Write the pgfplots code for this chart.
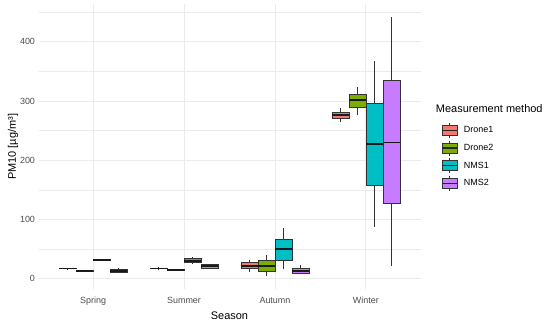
\documentclass[border=0pt]{standalone}
\usepackage{pgfplots}
\pgfplotsset{compat=1.18}
\usepackage{fontspec}
\setmainfont{Liberation Sans}
\definecolor{cD1}{HTML}{F8766D}
\definecolor{cD2}{HTML}{7CAE00}
\definecolor{cN1}{HTML}{00BFC4}
\definecolor{cN2}{HTML}{C77CFF}
\definecolor{g20}{HTML}{333333}
\definecolor{g30}{HTML}{4D4D4D}
\definecolor{g92}{HTML}{EBEBEB}
\pgfplotsset{
  keyimg/.style={legend image code/.code={
      \draw[g20, line width=0.6bp] (7.5bp,-7.5bp) -- (7.5bp,7.5bp);
      \draw[g20, line width=0.6bp, fill=#1] (0bp,-5bp) rectangle (15bp,5bp);
      \draw[black!85, line width=1.2bp] (0bp,0bp) -- (15bp,0bp);}}
}
% box: colour, position, lower whisker, Q1, median, Q3, upper whisker
\newcommand{\bx}[7]{%
  \pgfmathsetmacro\bxL{#2-0.093}\pgfmathsetmacro\bxR{#2+0.093}%
  \addplot[g20, line width=0.6bp, forget plot] coordinates {(#2,#3) (#2,#4)};
  \addplot[g20, line width=0.6bp, forget plot] coordinates {(#2,#6) (#2,#7)};
  \addplot[g20, line width=0.6bp, fill=#1, forget plot] coordinates {(\bxL,#4) (\bxR,#4) (\bxR,#6) (\bxL,#6)} -- cycle;
  \addplot[black!90, line width=1.7bp, forget plot] coordinates {(\bxL,#5) (\bxR,#5)};
}
\begin{document}
\begin{tikzpicture}
\useasboundingbox (0,0) rectangle (550bp,322bp);
\begin{axis}[
  at={(38.5bp,32.6bp)}, anchor=south west,
  scale only axis, width=382bp, height=285bp,
  xmin=0.4, xmax=4.6, ymin=-18, ymax=463,
  xtick={1,2,3,4}, xticklabels={Spring,Summer,Autumn,Winter},
  ytick={0,100,200,300,400}, minor ytick={50,150,250,350,450},
  grid=both,
  major grid style={draw=g92, line width=0.9bp},
  minor grid style={draw=g92, line width=0.45bp},
  axis line style={draw=none},
  tick style={draw=none},
  /pgf/number format/assume math mode=true,
  ticklabel style={font=\fontsize{9}{10}\selectfont, text=g30},
  xticklabel style={yshift=-4bp},
  yticklabel style={xshift=0bp},
  xlabel={Season}, ylabel={PM10 [µg/m³]},
  label style={font=\fontsize{11}{12}\selectfont},
  xlabel style={yshift=0bp},
  ylabel style={yshift=-5bp},
  legend style={at={(1.047,0.593)}, anchor=north west, draw=none, fill=none,
    font=\fontsize{9}{10}\selectfont, row sep=2.1bp,
    nodes={inner sep=1.5bp},
    /tikz/every odd column/.append style={column sep=4.5bp}},
  legend cell align=left,
  clip=false,
]
% Spring
\bx{cD1}{0.71875}{16.5}{17}{17.5}{18}{18.5}
\bx{cD2}{0.90625}{12.5}{13}{13.5}{14}{14.5}
\bx{cN1}{1.09375}{30.5}{31}{31.5}{32}{32.5}
\bx{cN2}{1.28125}{10}{11.3}{13.5}{16.4}{17.5}
% Summer
\bx{cD1}{1.71875}{16}{16.8}{17.5}{18.2}{19}
\bx{cD2}{1.90625}{14}{14.3}{14.7}{15.1}{15.5}
\bx{cN1}{2.09375}{25.5}{27.7}{30.5}{35}{37}
\bx{cN2}{2.28125}{16.5}{18}{21}{23.6}{25}
% Autumn
\bx{cD1}{2.71875}{12}{17}{22}{27}{31.5}
\bx{cD2}{2.90625}{4.5}{13}{22}{30.4}{40}
\bx{cN1}{3.09375}{16}{31.5}{50}{67}{86}
\bx{cN2}{3.28125}{7.4}{9.6}{13}{17}{22.6}
% Winter
\bx{cD1}{3.71875}{264}{270}{275.8}{281}{287.6}
\bx{cD2}{3.90625}{277}{288.6}{301.6}{311}{324}
\bx{cN1}{4.09375}{87.8}{157.6}{226.8}{296}{367}
\bx{cN2}{4.28125}{21.4}{127}{230}{335}{441}
\addlegendimage{keyimg=cD1}\addlegendentry{Drone1}
\addlegendimage{keyimg=cD2}\addlegendentry{Drone2}
\addlegendimage{keyimg=cN1}\addlegendentry{NMS1}
\addlegendimage{keyimg=cN2}\addlegendentry{NMS2}
\node[anchor=south west, font=\fontsize{11}{12}\selectfont, inner sep=0pt] at (rel axis cs:1.04,0.62) {Measurement method};
\end{axis}
\end{tikzpicture}
\end{document}
